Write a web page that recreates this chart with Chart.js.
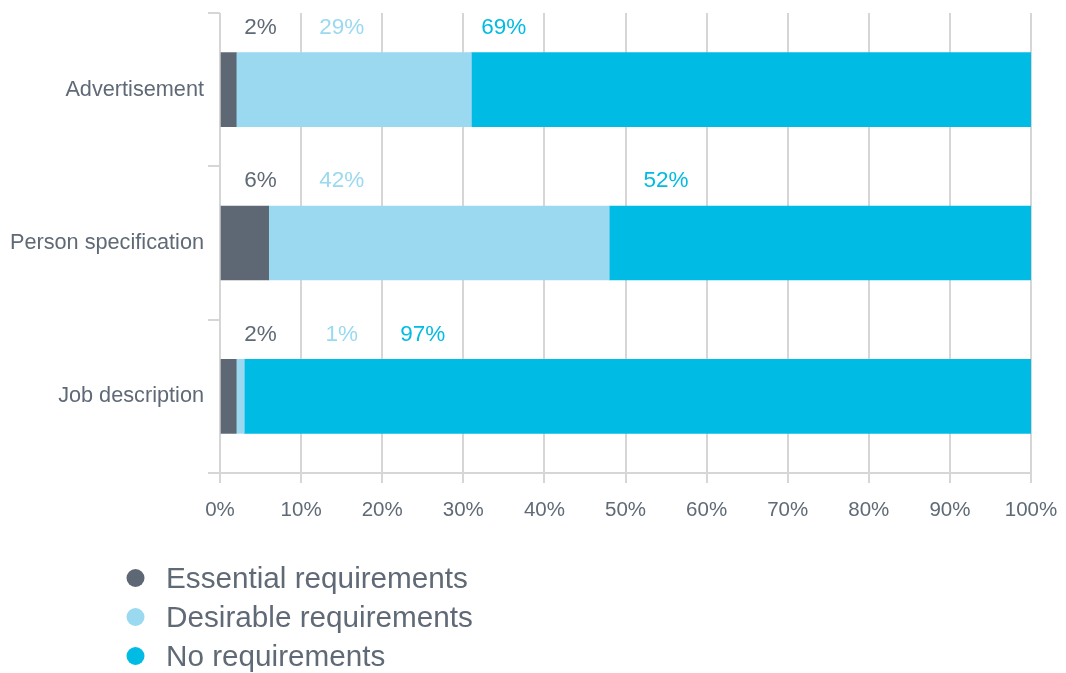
<!DOCTYPE html>
<html>
<head>
<meta charset="utf-8">
<script src="https://cdn.jsdelivr.net/npm/chart.js@4"></script>
<style>
  html, body { margin: 0; padding: 0; background: #fff; }
  #wrap { width: 1066px; height: 673px; position: relative; }
</style>
</head>
<body>
<div id="wrap"><canvas id="grafico"></canvas></div>
<script>
// datos
const categorias = ["Advertisement", "Person specification", "Job description"];
const esenciales = [2, 6, 2];
const deseables = [29, 42, 1];
const sinRequisitos = [69, 52, 97];
const nombresSeries = ["Essential requirements", "Desirable requirements", "No requirements"];
const ticksX = [0, 10, 20, 30, 40, 50, 60, 70, 80, 90, 100];
// columna de la grilla (0 = 0-10%) donde va cada etiqueta
const columnaEsencial = [0, 0, 0];
const columnaDeseable = [1, 1, 1];
const columnaSin = [3, 5, 2];

const colores = ["#5e6874", "#9ad9f0", "#00bbe3"];
const gris = "#5f6a76";
const grilla = "#d6d6d6";
const fuente = "'Liberation Sans', Arial, sans-serif";

// etiquetas de porcentaje sobre cada barra
const etiquetasPlugin = {
  id: "etiquetas",
  afterDatasetsDraw(chart) {
    const ctx = chart.ctx;
    const x = chart.scales.x;
    const columnas = [columnaEsencial, columnaDeseable, columnaSin];
    ctx.save();
    ctx.font = "22.5px " + fuente;
    ctx.textAlign = "center";
    ctx.textBaseline = "middle";
    chart.data.datasets.forEach((ds, i) => {
      const meta = chart.getDatasetMeta(i);
      meta.data.forEach((bar, j) => {
        const col = columnas[i][j];
        const px = x.getPixelForValue(col * 10 + 5);
        const py = bar.y - bar.height / 2 - 25;
        ctx.fillStyle = i === 0 ? gris : colores[i];
        ctx.fillText(ds.data[j] + "%", px, py);
      });
    });
    ctx.restore();
  }
};

// leyenda vertical abajo a la izquierda
const leyendaPlugin = {
  id: "leyenda",
  afterDraw(chart) {
    const ctx = chart.ctx;
    const base = chart.chartArea.bottom;
    ctx.save();
    ctx.font = "29.7px " + fuente;
    ctx.textAlign = "left";
    ctx.textBaseline = "middle";
    nombresSeries.forEach((nombre, i) => {
      const cy = base + 105 + i * 39;
      ctx.beginPath();
      ctx.arc(135.5, cy, 9, 0, Math.PI * 2);
      ctx.fillStyle = colores[i];
      ctx.fill();
      ctx.fillStyle = gris;
      ctx.fillText(nombre, 166, cy + 2);
    });
    ctx.restore();
  }
};

const contexto = document.getElementById("grafico").getContext("2d");
new Chart(contexto, {
  type: "bar",
  data: {
    labels: categorias,
    datasets: [
      { label: nombresSeries[0], data: esenciales, backgroundColor: colores[0] },
      { label: nombresSeries[1], data: deseables, backgroundColor: colores[1] },
      { label: nombresSeries[2], data: sinRequisitos, backgroundColor: colores[2] },
    ],
  },
  options: {
    indexAxis: "y",
    responsive: true,
    maintainAspectRatio: false,
    animation: false,
    datasets: { bar: { barThickness: 74, borderWidth: 0 } },
    layout: { padding: { top: 13, right: 35, bottom: 140, left: 0 } },
    plugins: {
      legend: { display: false },
      tooltip: { enabled: false },
    },
    scales: {
      x: {
        stacked: true,
        min: 0,
        max: 100,
        afterBuildTicks: (s) => { s.ticks = ticksX.map((v) => ({ value: v })); },
        afterFit: (s) => { s.height = 60; s.paddingLeft = 0; s.paddingRight = 0; },
        grid: { color: grilla, lineWidth: 2, tickLength: 10 },
        border: { display: true, color: grilla, width: 2 },
        ticks: {
          color: gris,
          font: { family: fuente, size: 20.5 },
          padding: 15,
          maxRotation: 0,
          callback: (v) => v + "%",
        },
      },
      y: {
        stacked: true,
        afterFit: (s) => { s.width = 220; s.paddingTop = 0; s.paddingBottom = 0; },
        grid: { offset: true, drawOnChartArea: false, color: grilla, lineWidth: 2, tickLength: 12 },
        border: { display: false },
        ticks: {
          color: gris,
          font: { family: fuente, size: 21.7 },
          padding: 4,
        },
      },
    },
  },
  plugins: [etiquetasPlugin, leyendaPlugin],
});
</script>
</body>
</html>
